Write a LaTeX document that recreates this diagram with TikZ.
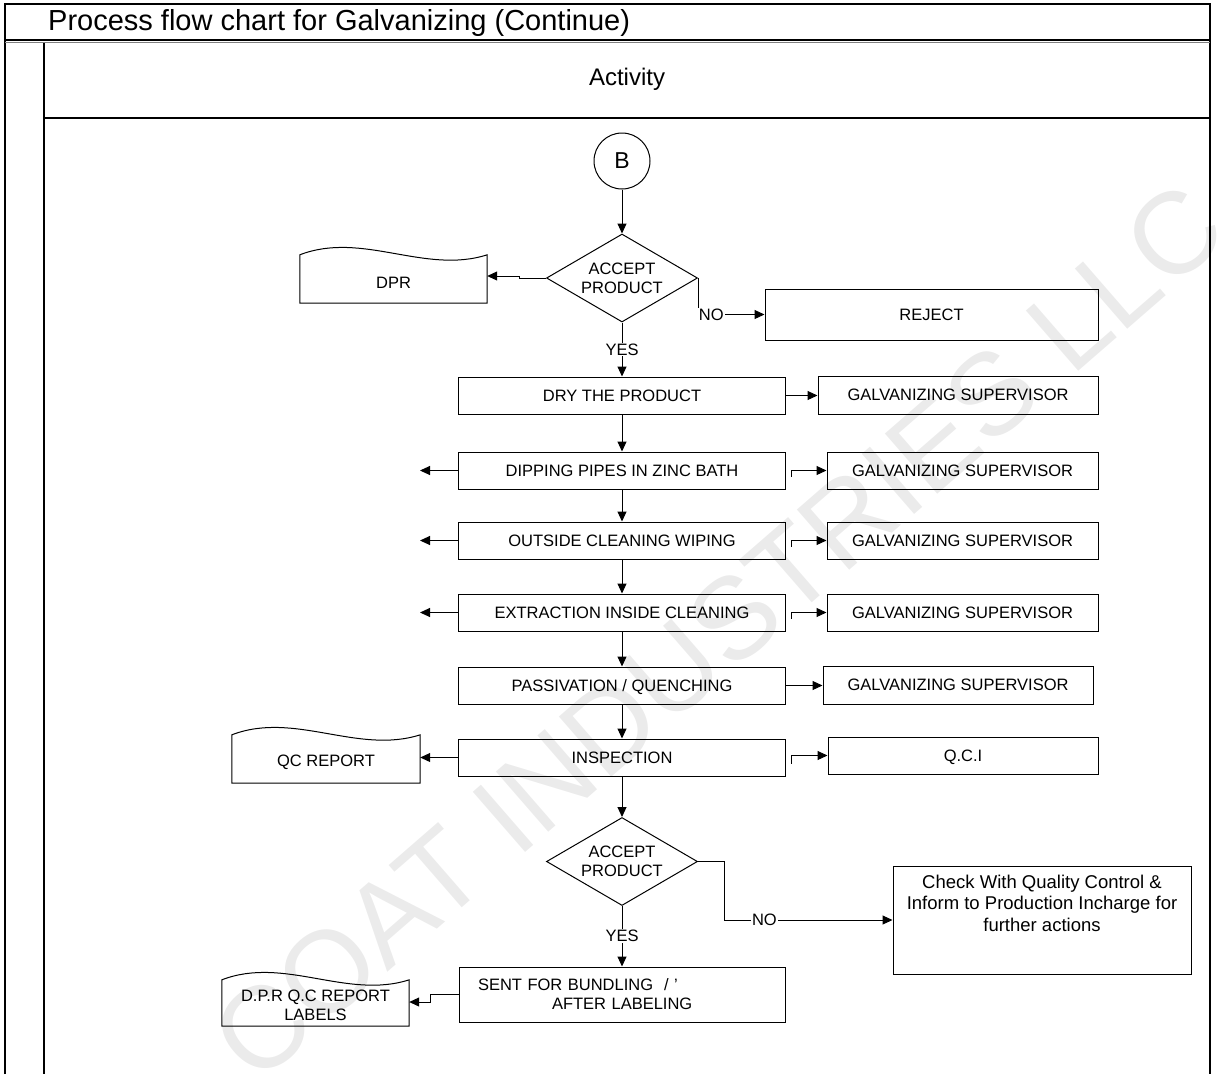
\documentclass[tikz,border=0pt]{standalone}
\usepackage{fontspec}
\setmainfont{Liberation Sans}
\usetikzlibrary{shapes.geometric,arrows.meta,calc}
\newcommand\drawdoc[1]{\draw[ln] (#1.south west) -- (#1.north west) .. controls ($(#1.north west)!0.333!(#1.north east)+(0,-24)$) and ($(#1.north west)!0.667!(#1.north east)+(0,20)$) .. (#1.north east) -- (#1.south east) -- cycle;}
\begin{document}
\begin{tikzpicture}[x=1pt,y=-1pt,
  every node/.style={font=\fontsize{16.5}{19}\selectfont},
  box/.style={draw, line width=1pt, rectangle, inner sep=0pt, align=center},
  sbox/.style={box, text height=11.8pt, text depth=0pt},
  dec/.style={draw, diamond, line width=1pt, inner sep=0pt, minimum width=151pt, minimum height=88pt},
  docbox/.style={rectangle, inner sep=0pt},
  arr/.style={line width=1pt, -{Triangle[length=10pt,width=9pt]}},
  ln/.style={line width=1pt},
  lbl/.style={fill=white, inner sep=1pt},
  frame/.style={line width=1.3pt}
]
\useasboundingbox (0,0) rectangle (1222,1074);
% watermark
\node[rotate=41, text=black!8, font=\fontsize{116}{116}\selectfont] (wm) at (718,632) {COAT INDUSTRIES LLC};
% frame
\draw[frame] (5,1074) -- (5,4) -- (1210,4) -- (1210,1074);
\draw[line width=1.2pt] (5,40) -- (1210,40);
\draw[line width=1.2pt, gray] (5,42.5) -- (1210,42.5);
\draw[frame] (44,43) -- (44,1074);
\draw[frame] (44,118) -- (1210,118);
\node[anchor=west, inner sep=0pt, font=\fontsize{29}{32}\selectfont] (title) at (48,23) {Process flow chart for Galvanizing (Continue)};
\node[inner sep=0pt, font=\fontsize{24}{26}\selectfont] (act) at (627,79) {Activity};
% nodes
\node[draw, circle, line width=1pt, minimum size=56pt, inner sep=0pt, font=\fontsize{23}{25}\selectfont] (B) at (622,161) {B};
\node[dec, label={[align=center, inner sep=0pt]center:{ACCEPT\\PRODUCT}}] (d1) at (622,278) {};
\node[docbox, minimum width=187pt, minimum height=48pt, label={[yshift=-4pt]center:DPR}] (dpr) at (393.5,279) {};
\drawdoc{dpr}
\node[sbox, minimum width=333pt, minimum height=51pt] (reject) at (931.5,314.5) {REJECT};
\node[sbox, minimum width=327pt, minimum height=37pt] (dry) at (622,395.5) {DRY THE PRODUCT};
\node[sbox, minimum width=280pt, minimum height=38pt] (gs1) at (958,395) {GALVANIZING SUPERVISOR};
\node[sbox, minimum width=327pt, minimum height=37pt] (dip) at (622,470.5) {DIPPING PIPES IN ZINC BATH};
\node[sbox, minimum width=271pt, minimum height=37pt] (gs2) at (962.5,470.5) {GALVANIZING SUPERVISOR};
\node[sbox, minimum width=327pt, minimum height=37pt] (out) at (622,540.5) {OUTSIDE CLEANING WIPING};
\node[sbox, minimum width=271pt, minimum height=37pt] (gs3) at (962.5,540.5) {GALVANIZING SUPERVISOR};
\node[sbox, minimum width=327pt, minimum height=37pt] (ext) at (622,612.5) {EXTRACTION INSIDE CLEANING};
\node[sbox, minimum width=271pt, minimum height=37pt] (gs4) at (962.5,612.5) {GALVANIZING SUPERVISOR};
\node[sbox, minimum width=327pt, minimum height=37pt] (pas) at (622,685.5) {PASSIVATION / QUENCHING};
\node[sbox, minimum width=270pt, minimum height=38pt] (gs5) at (958,685) {GALVANIZING SUPERVISOR};
\node[sbox, minimum width=327pt, minimum height=37pt] (insp) at (622,757.5) {INSPECTION};
\node[sbox, minimum width=270pt, minimum height=37pt] (qci) at (963,755.5) {Q.C.I};
\node[docbox, minimum width=188pt, minimum height=48pt, label={[yshift=-3pt]center:QC REPORT}] (qcr) at (326,759) {};
\drawdoc{qcr}
\node[dec, label={[align=center, inner sep=0pt]center:{ACCEPT\\PRODUCT}}] (d2) at (622,861.5) {};
\node[box, minimum width=298pt, minimum height=108pt, label={[align=center, inner sep=0pt, yshift=17pt, font=\fontsize{18.5}{21.5}\selectfont]center:{Check With Quality Control \&\\Inform to Production Incharge for\\further actions}}] (check) at (1042,920) {};
\node[box, minimum width=326pt, minimum height=55pt, align=left, text width=288pt, inner xsep=19pt] (sent) at (622,994.5) {SENT FOR BUNDLING\ \ / '\\\hspace*{74pt}AFTER LABELING};
\node[docbox, minimum width=187pt, minimum height=46pt, label={[align=center, inner sep=0pt, yshift=-2pt]center:{D.P.R Q.C REPORT\\LABELS}}] (dprq) at (315.5,1003) {};
\drawdoc{dprq}
\coordinate (l1) at (420,470.5);
\coordinate (l2) at (420,540.5);
\coordinate (l3) at (420,612.5);
% connectors
\draw[arr] (B.south) -- (d1.north);
\draw[arr] (d1.west) -- ++(-27,0) |- ([yshift=3pt]dpr.east);
\draw[arr] (d1.east) |- node[lbl, pos=0.6] {NO} (reject.west);
\draw[arr] (d1.south) -- node[lbl] {YES} (dry.north);
\draw[arr] (dry.east) -- (dry.east -| gs1.west);
\draw[arr] (dry.south) -- (dip.north);
\draw[arr] (dip.west) -- (l1);
\draw[arr] ([xshift=5pt,yshift=-6pt]dip.east) |- (gs2.west);
\draw[arr] (dip.south) -- (out.north);
\draw[arr] (out.west) -- (l2);
\draw[arr] ([xshift=5pt,yshift=-6pt]out.east) |- (gs3.west);
\draw[arr] (out.south) -- (ext.north);
\draw[arr] (ext.west) -- (l3);
\draw[arr] ([xshift=5pt,yshift=-6pt]ext.east) |- (gs4.west);
\draw[arr] (ext.south) -- (pas.north);
\draw[arr] (pas.east) -- (pas.east -| gs5.west);
\draw[arr] (pas.south) -- (insp.north);
\draw[arr] (insp.west) -- (insp.west -| qcr.east);
\draw[arr] ([xshift=5pt,yshift=-6pt]insp.east) |- (qci.west);
\draw[arr] (insp.south) -- (d2.north);
\draw[arr] (d2.east) -- ++(26,0) |- node[lbl, pos=0.62] {NO} (check.west);
\draw[arr] (d2.south) -- node[lbl] {YES} (sent.north);
\draw[arr] (sent.west) -- ++(-28,0) |- ([yshift=1pt]dprq.east);
\end{tikzpicture}
\end{document}
